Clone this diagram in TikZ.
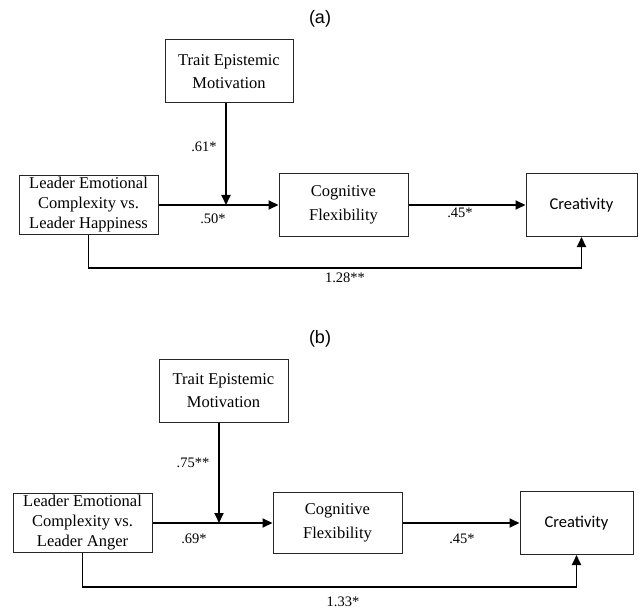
\documentclass[tikz,border=0pt]{standalone}
\usepackage{fontspec}
\setmainfont{Liberation Serif}
\newfontfamily\creafont{Carlito}
\newfontfamily\panelfont{Liberation Sans}
\usetikzlibrary{arrows.meta}
\begin{document}
\begin{tikzpicture}[x=1pt,y=-1pt,
  box/.style={draw=black!85,line width=1pt,inner sep=0pt,align=center,
    font=\fontsize{16.5}{20}\selectfont},
  tbox/.style={box,font=\fontsize{16.5}{23.5}\selectfont},
  cbox/.style={box,font=\creafont\fontsize{16.5}{20}\selectfont},
  arr/.style={line width=1.8pt,-{Triangle[length=10pt,width=9pt]}},
  path/.style={line width=1.8pt},
  lab/.style={font=\fontsize{14.5}{17}\selectfont,inner sep=0pt},
  panel/.style={font=\panelfont\fontsize{18}{20}\selectfont,inner sep=0pt}]
\useasboundingbox (0,0) rectangle (639,612);
% ---------- panel (a)
\node[panel] (pa) at (320,19) {(a)};
\node[tbox,minimum width=128pt,minimum height=63pt] (T1) at (229,71.5) {Trait Epistemic\\Motivation};
\node[box,minimum width=139pt,minimum height=59pt] (L1) at (88.5,205) {Leader Emotional\\Complexity vs.\\Leader Happiness};
\node[tbox,minimum width=129pt,minimum height=62pt] (C1) at (343.5,205) {Cognitive\\Flexibility};
\node[cbox,minimum width=111pt,minimum height=63pt] (R1) at (581.5,205) {Creativity};
\coordinate (m1) at (226,205);
\coordinate (b1) at (0,268);
\draw[arr] (L1.east) -- (C1.west);
\draw[arr] (m1 |- T1.south) -- (m1);
\draw[arr] (C1.east) -- (R1.west);
\draw[arr] (L1.south) -- (L1.south |- b1) -| (R1.south);
\node[lab] (a61) at (204,147) {.61*};
\node[lab] (a50) at (213,219) {.50*};
\node[lab] (a45) at (460,213) {.45*};
\node[lab] (a128) at (345,278) {1.28**};
% ---------- panel (b)
\node[panel] (pb) at (320,339) {(b)};
\node[tbox,minimum width=129pt,minimum height=63pt] (T2) at (223.5,390.5) {Trait Epistemic\\Motivation};
\node[box,minimum width=139pt,minimum height=59pt] (L2) at (82.5,523) {Leader Emotional\\Complexity vs.\\Leader Anger};
\node[tbox,minimum width=129pt,minimum height=61pt] (C2) at (337.5,523) {Cognitive\\Flexibility};
\node[cbox,minimum width=113pt,minimum height=63pt] (R2) at (576.5,523) {Creativity};
\coordinate (m2) at (219,523);
\coordinate (b2) at (0,587);
\draw[arr] (L2.east) -- (C2.west);
\draw[arr] (m2 |- T2.south) -- (m2);
\draw[arr] (C2.east) -- (R2.west);
\draw[arr] (L2.south) -- (L2.south |- b2) -| (R2.south);
\node[lab] (b75) at (193,463) {.75**};
\node[lab] (b69) at (194,539) {.69*};
\node[lab] (b45) at (462,539) {.45*};
\node[lab] (b133) at (343,602) {1.33*};
\end{tikzpicture}
\end{document}
